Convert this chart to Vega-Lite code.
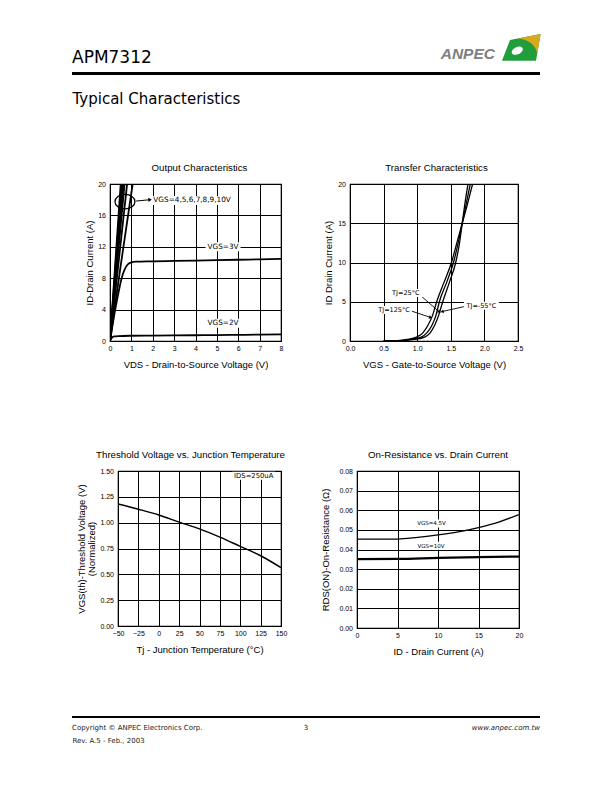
{
"$schema": "https://vega.github.io/schema/vega-lite/v6.json",
"background": "white",
"padding": {"left": 72, "top": 34, "right": 0, "bottom": 0},
"autosize": {"type": "pad"},
"spacing": 0,
"config": {
  "view": {"stroke": "black", "strokeWidth": 1.2},
  "font": "Liberation Sans",
  "axis": {"grid": true, "gridColor": "black", "gridWidth": 1, "gridOpacity": 1, "domain": false, "ticks": false, "labelFont": "Liberation Sans", "labelFontSize": 7, "labelColor": "black", "labelFlush": false, "labelOverlap": false, "titleFont": "Liberation Sans", "titleFontSize": 9.5, "titleFontWeight": "normal", "titleColor": "black"},
  "axisX": {"labelPadding": 3, "titlePadding": 8},
  "axisY": {"labelPadding": 4.5},
  "title": {"font": "Liberation Sans", "fontSize": 9.7, "fontWeight": "normal", "color": "black", "anchor": "middle", "frame": "group", "baseline": "alphabetic", "offset": 7.5}
},
"vconcat": [
  {
    "width": 468, "height": 3,
    "view": {"fill": "black", "stroke": null},
    "data": {"values": [{"name": "APM7312"}, {"name": "ANPEC"}]},
    "encoding": {
      "x": {"field": "name", "type": "nominal", "scale": {"type": "point", "padding": 0, "domain": ["APM7312", "ANPEC"]},
        "axis": {"title": "Typical Characteristics", "titleFont": "DejaVu Sans", "titleFontSize": 15, "titleFontWeight": "normal", "titleColor": "black", "titleAnchor": "start", "titleAlign": "left", "titleBaseline": "alphabetic", "titlePadding": 28.5, "labels": false, "ticks": false, "domain": false, "grid": false}}
    },
    "layer": [
      {"transform": [{"filter": {"field": "name", "equal": "APM7312"}}],
       "mark": {"type": "text", "font": "DejaVu Sans", "fontSize": 17, "color": "black", "align": "left", "baseline": "alphabetic", "dy": -10.2},
       "encoding": {"text": {"field": "name"}}},
      {"transform": [{"filter": {"field": "name", "equal": "ANPEC"}}],
       "mark": {"type": "point", "shape": "M -0.55 -0.39 L 0.98 -0.68 L 0.75 0.65 L -0.95 0.65 Z", "size": 1600, "filled": true, "fill": "#1f9e3b", "strokeWidth": 0, "opacity": 1, "xOffset": -19, "yOffset": -25.8}},
      {"transform": [{"filter": {"field": "name", "equal": "ANPEC"}}],
       "mark": {"type": "point", "shape": "M -0.15 -0.466 L 0.98 -0.68 L 0.81 0.3 C 0.72 -0.15 0.4 -0.42 -0.15 -0.466 Z", "size": 1600, "filled": true, "fill": "#d8a81e", "strokeWidth": 0, "opacity": 1, "xOffset": -19, "yOffset": -25.8}},
      {"transform": [{"filter": {"field": "name", "equal": "ANPEC"}}],
       "mark": {"type": "point", "shape": "M -1 0 C -1 -0.345 -0.552 -0.625 0 -0.625 C 0.552 -0.625 1 -0.345 1 0 C 1 0.345 0.552 0.625 0 0.625 C -0.552 0.625 -1 0.345 -1 0 Z", "size": 137, "angle": -25, "filled": true, "fill": "white", "strokeWidth": 0, "opacity": 1, "xOffset": -22.7, "yOffset": -22.8}},
      {"transform": [{"filter": {"field": "name", "equal": "ANPEC"}}],
       "mark": {"type": "text", "font": "Liberation Sans", "fontSize": 15.5, "fontStyle": "italic", "fontWeight": "bold", "color": "#808080", "align": "right", "baseline": "alphabetic", "dx": -45, "dy": -14.5},
       "encoding": {"text": {"field": "name"}}}
    ]
  },
  {"width": 1, "height": 55, "data": {"values": []}, "mark": "point", "view": {"stroke": null}},
  {
    "hconcat": [
      {"width": 38, "height": 1, "data": {"values": []}, "mark": "point", "view": {"stroke": null}},
      {
        "width": 171, "height": 157,
        "title": {"text": "Output Characteristics", "dx": 4},
        "layer": [
          {
            "data": {"values": [
              {"vgs": "2V", "vds": 0, "id": 0}, {"vgs": "2V", "vds": 0.05, "id": 0.25}, {"vgs": "2V", "vds": 0.1, "id": 0.45}, {"vgs": "2V", "vds": 0.2, "id": 0.58}, {"vgs": "2V", "vds": 0.4, "id": 0.63}, {"vgs": "2V", "vds": 1, "id": 0.67}, {"vgs": "2V", "vds": 2, "id": 0.69}, {"vgs": "2V", "vds": 3, "id": 0.71}, {"vgs": "2V", "vds": 4, "id": 0.73}, {"vgs": "2V", "vds": 5, "id": 0.75}, {"vgs": "2V", "vds": 6, "id": 0.78}, {"vgs": "2V", "vds": 7, "id": 0.81}, {"vgs": "2V", "vds": 8, "id": 0.85},
              {"vgs": "3V", "vds": 0, "id": 0}, {"vgs": "3V", "vds": 0.1, "id": 1.7}, {"vgs": "3V", "vds": 0.25, "id": 4.1}, {"vgs": "3V", "vds": 0.4, "id": 6.2}, {"vgs": "3V", "vds": 0.5, "id": 7.5}, {"vgs": "3V", "vds": 0.6, "id": 8.5}, {"vgs": "3V", "vds": 0.7, "id": 9.2}, {"vgs": "3V", "vds": 0.8, "id": 9.65}, {"vgs": "3V", "vds": 0.9, "id": 9.9}, {"vgs": "3V", "vds": 1.0, "id": 10.0}, {"vgs": "3V", "vds": 1.2, "id": 10.1}, {"vgs": "3V", "vds": 2, "id": 10.15}, {"vgs": "3V", "vds": 3, "id": 10.2}, {"vgs": "3V", "vds": 4, "id": 10.25}, {"vgs": "3V", "vds": 5, "id": 10.3}, {"vgs": "3V", "vds": 6, "id": 10.35}, {"vgs": "3V", "vds": 7, "id": 10.4}, {"vgs": "3V", "vds": 8, "id": 10.45},
              {"vgs": "4V", "vds": 0, "id": 0}, {"vgs": "4V", "vds": 0.5, "id": 9.6}, {"vgs": "4V", "vds": 1.06, "id": 20},
              {"vgs": "5V", "vds": 0, "id": 0}, {"vgs": "5V", "vds": 0.4, "id": 10}, {"vgs": "5V", "vds": 0.8, "id": 20},
              {"vgs": "6V", "vds": 0, "id": 0}, {"vgs": "6V", "vds": 0.34, "id": 10}, {"vgs": "6V", "vds": 0.68, "id": 20},
              {"vgs": "7V", "vds": 0, "id": 0}, {"vgs": "7V", "vds": 0.31, "id": 10}, {"vgs": "7V", "vds": 0.62, "id": 20},
              {"vgs": "8V", "vds": 0, "id": 0}, {"vgs": "8V", "vds": 0.29, "id": 10}, {"vgs": "8V", "vds": 0.58, "id": 20},
              {"vgs": "9V", "vds": 0, "id": 0}, {"vgs": "9V", "vds": 0.27, "id": 10}, {"vgs": "9V", "vds": 0.54, "id": 20},
              {"vgs": "10V", "vds": 0, "id": 0}, {"vgs": "10V", "vds": 0.25, "id": 10}, {"vgs": "10V", "vds": 0.5, "id": 20}
            ]},
            "mark": {"type": "line", "stroke": "black", "strokeWidth": 1.8, "interpolate": "monotone", "clip": true},
            "encoding": {
              "x": {"field": "vds", "type": "quantitative", "scale": {"domain": [0, 8], "nice": false}, "axis": {"values": [0, 1, 2, 3, 4, 5, 6, 7, 8], "tickCount": 50, "format": "d", "labelOverlap": false, "title": "VDS - Drain-to-Source Voltage (V)"}},
              "y": {"field": "id", "type": "quantitative", "scale": {"domain": [0, 20], "nice": false}, "axis": {"values": [0, 4, 8, 12, 16, 20], "tickCount": 50, "format": "d", "labelOverlap": false, "title": "ID-Drain Current (A)", "titlePadding": 3}},
              "detail": {"field": "vgs"}
            }
          },
          {
            "data": {"values": [{"vds": 0.7, "id": 17.75}]},
            "mark": {"type": "point", "shape": "M -1.37 0 C -1.37 -0.552 -0.757 -1 0 -1 C 0.757 -1 1.37 -0.552 1.37 0 C 1.37 0.552 0.757 1 0 1 C -0.757 1 -1.37 0.552 -1.37 0 Z", "size": 213, "filled": false, "stroke": "black", "strokeWidth": 1.3, "opacity": 1},
            "encoding": {"x": {"field": "vds", "type": "quantitative"}, "y": {"field": "id", "type": "quantitative"}}
          },
          {
            "data": {"values": [{"vds": 1.22, "id": 17.83, "vds2": 1.88, "id2": 18.0}]},
            "layer": [
              {"mark": {"type": "rule", "stroke": "black", "strokeWidth": 1},
               "encoding": {"x": {"field": "vds", "type": "quantitative"}, "y": {"field": "id", "type": "quantitative"}, "x2": {"field": "vds2"}, "y2": {"field": "id2"}}},
              {"mark": {"type": "point", "shape": "triangle-right", "size": 18, "angle": -5, "filled": true, "fill": "black", "strokeWidth": 0, "opacity": 1},
               "encoding": {"x": {"field": "vds2", "type": "quantitative"}, "y": {"field": "id2", "type": "quantitative"}}}
            ]
          },
          {
            "data": {"values": [{"vds": 3.84, "id": 17.9, "label": "VGS=4,5,6,7,8,9,10V"}]},
            "encoding": {"x": {"field": "vds", "type": "quantitative"}, "y": {"field": "id", "type": "quantitative"}},
            "layer": [
              {"mark": {"type": "point", "shape": "M -1 -0.111 H 1 V 0.111 H -1 Z", "size": 6561, "filled": true, "fill": "white", "strokeWidth": 0, "opacity": 1}},
              {"mark": {"type": "text", "font": "DejaVu Sans", "fontSize": 7.3, "baseline": "middle", "align": "center", "color": "black"}, "encoding": {"text": {"field": "label"}}}
            ]
          },
          {
            "data": {"values": [{"vds": 5.29, "id": 12.0, "label": "VGS=3V"}, {"vds": 5.29, "id": 2.25, "label": "VGS=2V"}]},
            "encoding": {"x": {"field": "vds", "type": "quantitative"}, "y": {"field": "id", "type": "quantitative"}},
            "layer": [
              {"mark": {"type": "point", "shape": "M -1 -0.257 H 1 V 0.257 H -1 Z", "size": 1225, "filled": true, "fill": "white", "strokeWidth": 0, "opacity": 1}},
              {"mark": {"type": "text", "font": "DejaVu Sans", "fontSize": 7.3, "baseline": "middle", "align": "center", "color": "black"}, "encoding": {"text": {"field": "label"}}}
            ]
          }
        ]
      },
      {"width": 69, "height": 1, "data": {"values": []}, "mark": "point", "view": {"stroke": null}},
      {
        "width": 168, "height": 157,
        "title": {"text": "Transfer Characteristics", "dx": 2.5},
        "layer": [
          {
            "data": {"values": [
              {"tj": "125", "vgs": 0.5, "id": 0}, {"tj": "125", "vgs": 0.7, "id": 0.05}, {"tj": "125", "vgs": 0.85, "id": 0.2}, {"tj": "125", "vgs": 0.99, "id": 0.5}, {"tj": "125", "vgs": 1.08, "id": 1.0}, {"tj": "125", "vgs": 1.16, "id": 2.0}, {"tj": "125", "vgs": 1.23, "id": 3.3}, {"tj": "125", "vgs": 1.29, "id": 5.0}, {"tj": "125", "vgs": 1.40, "id": 7.5}, {"tj": "125", "vgs": 1.51, "id": 10.0}, {"tj": "125", "vgs": 1.59, "id": 12.5}, {"tj": "125", "vgs": 1.67, "id": 15.0}, {"tj": "125", "vgs": 1.75, "id": 17.5}, {"tj": "125", "vgs": 1.824, "id": 20.0},
              {"tj": "25", "vgs": 0.5, "id": 0}, {"tj": "25", "vgs": 0.75, "id": 0.05}, {"tj": "25", "vgs": 0.9, "id": 0.2}, {"tj": "25", "vgs": 1.06, "id": 0.5}, {"tj": "25", "vgs": 1.14, "id": 1.0}, {"tj": "25", "vgs": 1.22, "id": 2.0}, {"tj": "25", "vgs": 1.28, "id": 3.3}, {"tj": "25", "vgs": 1.33, "id": 5.0}, {"tj": "25", "vgs": 1.44, "id": 7.5}, {"tj": "25", "vgs": 1.54, "id": 10.0}, {"tj": "25", "vgs": 1.61, "id": 12.5}, {"tj": "25", "vgs": 1.67, "id": 15.0}, {"tj": "25", "vgs": 1.73, "id": 17.5}, {"tj": "25", "vgs": 1.79, "id": 20.0},
              {"tj": "-55", "vgs": 0.5, "id": 0}, {"tj": "-55", "vgs": 0.8, "id": 0.05}, {"tj": "-55", "vgs": 0.95, "id": 0.2}, {"tj": "-55", "vgs": 1.11, "id": 0.5}, {"tj": "-55", "vgs": 1.19, "id": 1.0}, {"tj": "-55", "vgs": 1.26, "id": 2.0}, {"tj": "-55", "vgs": 1.32, "id": 3.3}, {"tj": "-55", "vgs": 1.38, "id": 5.0}, {"tj": "-55", "vgs": 1.48, "id": 7.5}, {"tj": "-55", "vgs": 1.573, "id": 10.0}, {"tj": "-55", "vgs": 1.63, "id": 12.5}, {"tj": "-55", "vgs": 1.67, "id": 15.0}, {"tj": "-55", "vgs": 1.71, "id": 17.5}, {"tj": "-55", "vgs": 1.756, "id": 20.0}
            ]},
            "mark": {"type": "line", "stroke": "black", "strokeWidth": 1.3, "interpolate": "monotone", "clip": true},
            "encoding": {
              "x": {"field": "vgs", "type": "quantitative", "scale": {"domain": [0, 2.5], "nice": false}, "axis": {"values": [0, 0.5, 1, 1.5, 2, 2.5], "tickCount": 50, "format": ".1f", "labelOverlap": false, "title": "VGS - Gate-to-Source Voltage (V)"}},
              "y": {"field": "id", "type": "quantitative", "scale": {"domain": [0, 20], "nice": false}, "axis": {"values": [0, 5, 10, 15, 20], "tickCount": 50, "format": "d", "labelOverlap": false, "title": "ID Drain Current (A)", "titlePadding": 4}},
              "detail": {"field": "tj"}
            }
          },
          {
            "data": {"values": [{"vgs": 1.05, "id": 5.8, "vgs2": 1.33, "id2": 3.7}, {"vgs": 0.92, "id": 3.8, "vgs2": 1.2, "id2": 3.0}, {"vgs": 1.71, "id": 4.4, "vgs2": 1.37, "id2": 3.75}]},
            "mark": {"type": "rule", "stroke": "black", "strokeWidth": 0.9},
            "encoding": {"x": {"field": "vgs", "type": "quantitative"}, "y": {"field": "id", "type": "quantitative"}, "x2": {"field": "vgs2"}, "y2": {"field": "id2"}}
          },
          {
            "data": {"values": [{"vgs": 1.33, "id": 3.7}]},
            "mark": {"type": "point", "shape": "triangle-right", "size": 14, "angle": 41, "filled": true, "fill": "black", "strokeWidth": 0, "opacity": 1},
            "encoding": {"x": {"field": "vgs", "type": "quantitative"}, "y": {"field": "id", "type": "quantitative"}}
          },
          {
            "data": {"values": [{"vgs": 1.2, "id": 3.0}]},
            "mark": {"type": "point", "shape": "triangle-right", "size": 14, "angle": 18, "filled": true, "fill": "black", "strokeWidth": 0, "opacity": 1},
            "encoding": {"x": {"field": "vgs", "type": "quantitative"}, "y": {"field": "id", "type": "quantitative"}}
          },
          {
            "data": {"values": [{"vgs": 1.37, "id": 3.75}]},
            "mark": {"type": "point", "shape": "triangle-right", "size": 14, "angle": 167, "filled": true, "fill": "black", "strokeWidth": 0, "opacity": 1},
            "encoding": {"x": {"field": "vgs", "type": "quantitative"}, "y": {"field": "id", "type": "quantitative"}}
          },
          {
            "data": {"values": [{"vgs": 0.83, "id": 6.1, "label": "TJ=25°C"}, {"vgs": 0.655, "id": 3.95, "label": "TJ=125°C"}, {"vgs": 1.955, "id": 4.5, "label": "TJ=-55°C"}]},
            "encoding": {"x": {"field": "vgs", "type": "quantitative"}, "y": {"field": "id", "type": "quantitative"}},
            "layer": [
              {"mark": {"type": "point", "shape": "M -1 -0.229 H 1 V 0.229 H -1 Z", "size": 1225, "filled": true, "fill": "white", "strokeWidth": 0, "opacity": 1}},
              {"mark": {"type": "text", "font": "DejaVu Sans", "fontSize": 6.5, "baseline": "middle", "align": "center", "color": "black"}, "encoding": {"text": {"field": "label"}}}
            ]
          }
        ]
      }
    ],
    "spacing": 0,
    "bounds": "flush"
  },
  {"width": 1, "height": 79, "data": {"values": []}, "mark": "point", "view": {"stroke": null}},
  {
    "hconcat": [
      {"width": 46, "height": 1, "data": {"values": []}, "mark": "point", "view": {"stroke": null}},
      {
        "width": 163, "height": 155,
        "title": {"text": "Threshold Voltage vs. Junction Temperature", "dx": -9},
        "layer": [
          {
            "data": {"values": [
              {"tj": -50, "vth": 1.18}, {"tj": -25, "vth": 1.13}, {"tj": 0, "vth": 1.075}, {"tj": 25, "vth": 1.005}, {"tj": 50, "vth": 0.94}, {"tj": 75, "vth": 0.86}, {"tj": 100, "vth": 0.77}, {"tj": 125, "vth": 0.68}, {"tj": 150, "vth": 0.565}
            ]},
            "mark": {"type": "line", "stroke": "black", "strokeWidth": 1.5, "interpolate": "monotone", "clip": true},
            "encoding": {
              "x": {"field": "tj", "type": "quantitative", "scale": {"domain": [-50, 150], "nice": false, "zero": false}, "axis": {"values": [-50, -25, 0, 25, 50, 75, 100, 125, 150], "tickCount": 50, "format": "d", "labelOverlap": false, "title": "Tj - Junction Temperature (°C)"}},
              "y": {"field": "vth", "type": "quantitative", "scale": {"domain": [0, 1.5], "nice": false}, "axis": {"values": [0, 0.25, 0.5, 0.75, 1, 1.25, 1.5], "tickCount": 50, "format": ".2f", "labelOverlap": false, "title": ["VGS(th)-Threshold Voltage (V)", "(Normalized)"], "titleLineHeight": 10, "titlePadding": 3}}
            }
          },
          {
            "data": {"values": [{"tj": 116.5, "vth": 1.455, "label": "IDS=250uA"}]},
            "encoding": {"x": {"field": "tj", "type": "quantitative"}, "y": {"field": "vth", "type": "quantitative"}},
            "layer": [
              {"mark": {"type": "point", "shape": "M -1 -0.186 H 1 V 0.186 H -1 Z", "size": 1849, "filled": true, "fill": "white", "strokeWidth": 0, "opacity": 1}},
              {"mark": {"type": "text", "font": "DejaVu Sans", "fontSize": 6.8, "baseline": "middle", "align": "center", "color": "black"}, "encoding": {"text": {"field": "label"}}}
            ]
          }
        ]
      },
      {"width": 76, "height": 1, "data": {"values": []}, "mark": "point", "view": {"stroke": null}},
      {
        "width": 162, "height": 157,
        "title": "On-Resistance vs. Drain Current",
        "layer": [
          {
            "data": {"values": [
              {"vgs": "4.5V", "id": 0, "rds": 0.0453}, {"vgs": "4.5V", "id": 2.5, "rds": 0.0453}, {"vgs": "4.5V", "id": 5, "rds": 0.0453}, {"vgs": "4.5V", "id": 7.5, "rds": 0.0462}, {"vgs": "4.5V", "id": 10, "rds": 0.0474}, {"vgs": "4.5V", "id": 12.5, "rds": 0.049}, {"vgs": "4.5V", "id": 15, "rds": 0.0512}, {"vgs": "4.5V", "id": 17.5, "rds": 0.054}, {"vgs": "4.5V", "id": 20, "rds": 0.0578},
              {"vgs": "10V", "id": 0, "rds": 0.0351}, {"vgs": "10V", "id": 5, "rds": 0.0352}, {"vgs": "10V", "id": 10, "rds": 0.0357}, {"vgs": "10V", "id": 15, "rds": 0.0361}, {"vgs": "10V", "id": 20, "rds": 0.0364}
            ]},
            "mark": {"type": "line", "stroke": "black", "interpolate": "monotone", "clip": true},
            "encoding": {
              "x": {"field": "id", "type": "quantitative", "scale": {"domain": [0, 20], "nice": false}, "axis": {"values": [0, 5, 10, 15, 20], "tickCount": 50, "format": "d", "labelOverlap": false, "title": "ID - Drain Current (A)"}},
              "y": {"field": "rds", "type": "quantitative", "scale": {"domain": [0, 0.08], "nice": false}, "axis": {"values": [0, 0.01, 0.02, 0.03, 0.04, 0.05, 0.06, 0.07, 0.08], "tickCount": 50, "format": ".2f", "labelOverlap": false, "title": "RDS(ON)-On-Resistance (Ω)", "titlePadding": 8.8}},
              "detail": {"field": "vgs"},
              "strokeWidth": {"field": "vgs", "type": "nominal", "scale": {"domain": ["4.5V", "10V"], "range": [1.3, 2.2]}, "legend": null}
            }
          },
          {
            "data": {"values": [{"id": 9.2, "rds": 0.0533, "label": "VGS=4.5V"}, {"id": 9.13, "rds": 0.0419, "label": "VGS=10V"}]},
            "encoding": {"x": {"field": "id", "type": "quantitative"}, "y": {"field": "rds", "type": "quantitative"}},
            "layer": [
              {"mark": {"type": "point", "shape": "M -1 -0.25 H 1 V 0.25 H -1 Z", "size": 1024, "filled": true, "fill": "white", "strokeWidth": 0, "opacity": 1}},
              {"mark": {"type": "text", "font": "DejaVu Sans", "fontSize": 5.5, "baseline": "middle", "align": "center", "color": "black"}, "encoding": {"text": {"field": "label"}}}
            ]
          }
        ]
      }
    ],
    "spacing": 0,
    "bounds": "flush"
  },
  {"width": 1, "height": 59, "data": {"values": []}, "mark": "point", "view": {"stroke": null}},
  {
    "width": 468, "height": 2,
    "view": {"fill": "black", "stroke": null},
    "data": {"values": [{"note": "Copyright © ANPEC Electronics Corp."}, {"note": "3"}, {"note": "www.anpec.com.tw"}]},
    "encoding": {
      "x": {"field": "note", "type": "nominal", "scale": {"type": "point", "padding": 0, "domain": ["Copyright © ANPEC Electronics Corp.", "3", "www.anpec.com.tw"]},
        "axis": {"title": "Rev. A.5 - Feb., 2003", "titleFont": "DejaVu Sans", "titleFontSize": 7, "titleFontWeight": "normal", "titleColor": "#222222", "titleAnchor": "start", "titleAlign": "left", "titleBaseline": "alphabetic", "titlePadding": 24.5, "labels": false, "ticks": false, "domain": false, "grid": false}},
      "text": {"field": "note"}
    },
    "layer": [
      {"transform": [{"filter": {"field": "note", "equal": "Copyright © ANPEC Electronics Corp."}}],
       "mark": {"type": "text", "font": "DejaVu Sans", "fontSize": 7, "color": "#222222", "align": "left", "baseline": "alphabetic", "dy": 12.7}},
      {"transform": [{"filter": {"field": "note", "equal": "3"}}],
       "mark": {"type": "text", "font": "DejaVu Sans", "fontSize": 7, "color": "#222222", "align": "center", "baseline": "alphabetic", "dy": 12.7}},
      {"transform": [{"filter": {"field": "note", "equal": "www.anpec.com.tw"}}],
       "mark": {"type": "text", "font": "DejaVu Sans", "fontSize": 7, "fontStyle": "italic", "color": "#222222", "align": "right", "baseline": "alphabetic", "dy": 12.7}}
    ]
  }
]
}
